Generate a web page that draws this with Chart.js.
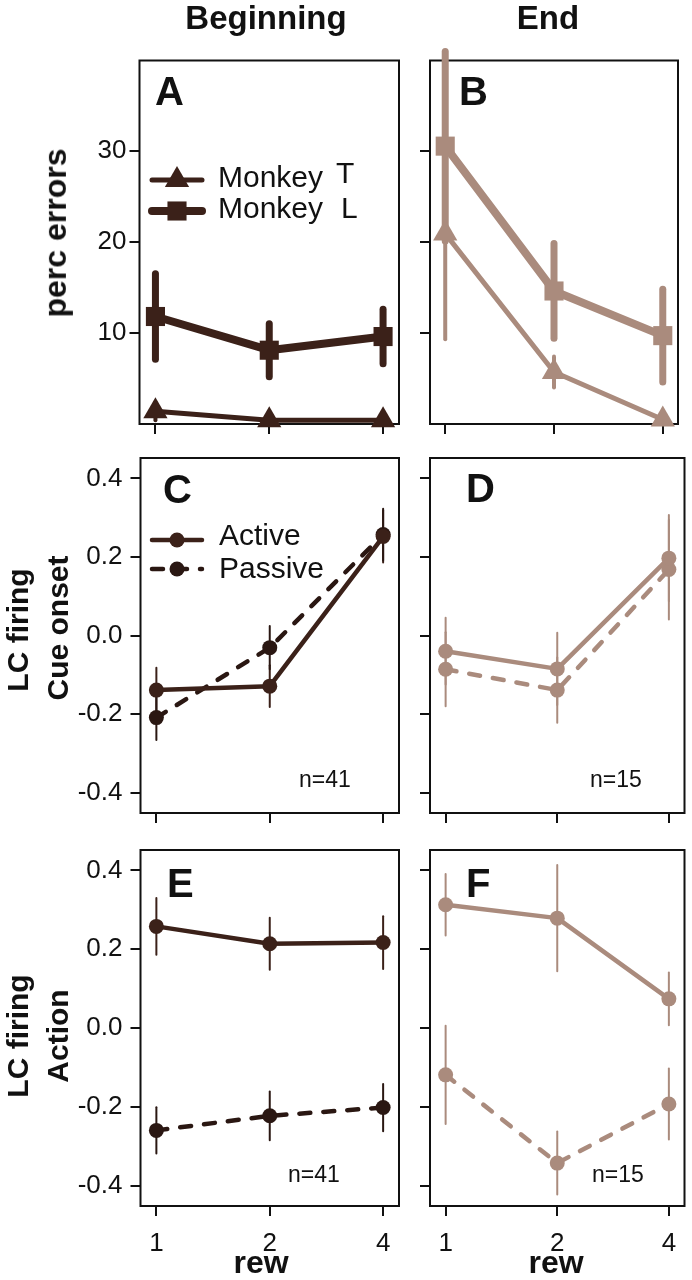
<!DOCTYPE html>
<html>
<head>
<meta charset="utf-8">
<script src="https://cdn.jsdelivr.net/npm/chart.js@4.4.1/dist/chart.umd.min.js"></script>
<style>
  body { margin: 0; background: #fff; }
  #wrap { position: relative; width: 692px; height: 1280px; overflow: hidden; font-family: "Liberation Sans", Arial, sans-serif; color: #111; }
  #wrap canvas { position: absolute; left: 0; top: 0; }
  .t { position: absolute; white-space: nowrap; line-height: 1; }
</style>
</head>
<body>
<div id="wrap">
  <canvas id="pA" width="692" height="1280"></canvas>
  <canvas id="pB" width="692" height="1280"></canvas>
  <canvas id="pC" width="692" height="1280"></canvas>
  <canvas id="pD" width="692" height="1280"></canvas>
  <canvas id="pE" width="692" height="1280"></canvas>
  <canvas id="pF" width="692" height="1280"></canvas>
</div>
<script>
// x categories and tick values
const rewLabels = ['1', '2', '4'];
const errorTicks = [10, 20, 30];
const firingTicks = [-0.4, -0.2, 0, 0.2, 0.4];

// perc errors (A = beginning, B = end)
const begMonkeyT = [1.4, 0.4, 0.4];
const begMonkeyTErr = [1.0, 0, 0];
const begMonkeyL = [11.8, 8.1, 9.6];
const begMonkeyLErr = [4.7, 2.9, 3.0];
const endMonkeyT = [20.9, 5.7, 0.5];
const endMonkeyTErr = [11.6, 1.7, 0];
const endMonkeyL = [30.5, 14.6, 9.7];
const endMonkeyLErr = [10.4, 5.2, 5.1];

// LC firing, cue onset (C, D)
const cueBegActive = [-0.139, -0.129, 0.252];
const cueBegActiveErr = [0.057, 0.053, 0.066];
const cueBegPassive = [-0.209, -0.031, 0.257];
const cueBegPassiveErr = [0.057, 0.055, 0.066];
const cueEndActive = [-0.040, -0.085, 0.197];
const cueEndActiveErr = [0.085, 0.092, 0.110];
const cueEndPassive = [-0.086, -0.139, 0.168];
const cueEndPassiveErr = [0.094, 0.083, 0.127];

// LC firing, action (E, F)
const actBegActive = [0.258, 0.214, 0.217];
const actBegActiveErr = [0.072, 0.066, 0.067];
const actBegPassive = [-0.260, -0.223, -0.202];
const actBegPassiveErr = [0.059, 0.062, 0.060];
const actEndActive = [0.313, 0.279, 0.074];
const actEndActiveErr = [0.078, 0.135, 0.067];
const actEndPassive = [-0.119, -0.343, -0.193];
const actEndPassiveErr = [0.125, 0.080, 0.090];

const FONT = '"Liberation Sans", Arial, sans-serif';
const BEG = '#3b2119';
const BEG_DARK = '#2a1712';
const END = '#aa8b7d';
const Y_W = 100, X_H = 60;

// vertical error bars, drawn from each dataset's errors array
const errorBars = {
    id: 'errorBars',
    beforeDatasetsDraw(chart) {
        const ctx = chart.ctx, xs = chart.scales.x, ys = chart.scales.y;
        chart.data.datasets.forEach(ds => {
            if (!ds.errors) return;
            ctx.save();
            ctx.strokeStyle = ds.borderColor;
            ctx.lineWidth = ds.errorWidth;
            ctx.lineCap = 'round';
            ds.data.forEach((p, i) => {
                const e = ds.errors[i];
                if (!e) return;
                const px = xs.getPixelForValue(p.x);
                ctx.beginPath();
                ctx.moveTo(px, ys.getPixelForValue(p.y - e));
                ctx.lineTo(px, ys.getPixelForValue(p.y + e));
                ctx.stroke();
            });
            ctx.restore();
        });
    }
};

// box around the plot region
const frame = {
    id: 'frame',
    beforeDatasetsDraw(chart) {
        const a = chart.chartArea, ctx = chart.ctx;
        ctx.save();
        ctx.strokeStyle = '#111';
        ctx.lineWidth = 2;
        ctx.strokeRect(a.left, a.top, a.right - a.left, a.bottom - a.top);
        ctx.restore();
    }
};

// legend drawn inside the plot
const insetLegend = {
    id: 'insetLegend',
    afterDraw(chart, args, opts) {
        if (!opts.rows) return;
        const ctx = chart.ctx;
        chart.data.datasets.forEach((ds, i) => {
            const row = opts.rows[i];
            ctx.save();
            ctx.strokeStyle = ds.borderColor;
            ctx.lineWidth = ds.borderWidth;
            ctx.lineCap = 'round';
            ctx.setLineDash(ds.borderDash || []);
            ctx.beginPath();
            ctx.moveTo(opts.x, row.y);
            ctx.lineTo(opts.x + opts.len, row.y);
            ctx.stroke();
            ctx.setLineDash([]);
            ctx.fillStyle = ds.pointBackgroundColor;
            Chart.helpers.drawPoint(ctx, { pointStyle: ds.pointStyle, radius: ds.pointRadius, borderWidth: 0, rotation: 0 },
                opts.x + opts.len / 2, row.y);
            ctx.fillStyle = '#111';
            ctx.font = opts.size + 'px ' + FONT;
            ctx.textBaseline = 'alphabetic';
            ctx.fillText(row.text, opts.textX, row.base);
            if (row.suffix) ctx.fillText(row.suffix, row.sx, row.sbase);
            ctx.restore();
        });
    }
};

function series(values, errors, color, style) {
    return Object.assign({
        data: values.map((v, i) => ({ x: i, y: v })),
        errors: errors,
        borderColor: color,
        backgroundColor: color,
        pointBackgroundColor: color,
        pointBorderWidth: 0,
        borderCapStyle: 'round',
        borderJoinStyle: 'round',
        clip: false
    }, style);
}

function makePanel(id, area, yMin, yMax, yTicks, fmt, showY, showX, yPad, datasets, legend) {
    const grid = { drawOnChartArea: false, drawTicks: true, tickLength: 10, color: '#111', lineWidth: 2 };
    return new Chart(document.getElementById(id), {
        type: 'line',
        data: { datasets: datasets },
        options: {
            responsive: false,
            animation: false,
            events: [],
            layout: { padding: { left: area[0] - Y_W, top: area[2], right: 692 - area[1], bottom: 1280 - area[3] - X_H } },
            plugins: {
                legend: { display: false },
                tooltip: { enabled: false },
                insetLegend: legend || {}
            },
            scales: {
                x: {
                    type: 'linear', min: -0.14, max: 2.14,
                    afterFit(s) { s.height = X_H; },
                    afterBuildTicks(s) { s.ticks = rewLabels.map((_, i) => ({ value: i })); },
                    grid: grid, border: { display: false },
                    ticks: { display: showX, callback: v => rewLabels[v], color: '#111', padding: 12,
                             font: { size: 26, family: FONT }, maxRotation: 0, autoSkip: false }
                },
                y: {
                    min: yMin, max: yMax,
                    afterFit(s) { s.width = Y_W; },
                    afterBuildTicks(s) { s.ticks = yTicks.map(v => ({ value: v })); },
                    grid: grid, border: { display: false },
                    ticks: { display: showY, callback: fmt, color: '#111', padding: yPad,
                             font: { size: 26, family: FONT }, autoSkip: false }
                }
            }
        },
        plugins: [frame, errorBars, insetLegend]
    });
}

const fmtInt = v => String(v);
const fmtDec = v => v.toFixed(1);

const triT = { pointStyle: 'triangle', pointRadius: 14, borderWidth: 5, errorWidth: 4 };
const sqL = { pointStyle: 'rect', pointRadius: 13.5, borderWidth: 8, errorWidth: 7 };
const solid = { pointStyle: 'circle', pointRadius: 7.5, borderWidth: 4.5, errorWidth: 2 };
const dashed = { pointStyle: 'circle', pointRadius: 7.5, borderWidth: 4.5, errorWidth: 2, borderDash: [11, 13] };

makePanel('pA', [139.5, 399, 60.5, 424], 0, 39.9, errorTicks, fmtInt, true, false, 3, [
    series(begMonkeyT, begMonkeyTErr, BEG, Object.assign({ label: 'Monkey T' }, triT)),
    series(begMonkeyL, begMonkeyLErr, BEG, Object.assign({ label: 'Monkey L' }, sqL))
], {
    x: 152, len: 50, textX: 218, size: 30,
    rows: [
        { y: 180, text: 'Monkey', base: 187, suffix: 'T', sx: 336, sbase: 183 },
        { y: 211, text: 'Monkey', base: 218, suffix: 'L', sx: 341, sbase: 218 }
    ]
});

makePanel('pB', [430, 689, 60.5, 424], 0, 39.9, errorTicks, fmtInt, false, false, 3, [
    series(endMonkeyT, endMonkeyTErr, END, Object.assign({ label: 'Monkey T' }, triT)),
    series(endMonkeyL, endMonkeyLErr, END, Object.assign({ label: 'Monkey L' }, sqL))
]);

makePanel('pC', [140.5, 399, 458, 813], -0.452, 0.452, firingTicks, fmtDec, true, false, 8, [
    series(cueBegActive, cueBegActiveErr, BEG, Object.assign({ label: 'Active' }, solid)),
    series(cueBegPassive, cueBegPassiveErr, BEG_DARK, Object.assign({ label: 'Passive' }, dashed))
], {
    x: 152, len: 50, textX: 219, size: 30,
    rows: [
        { y: 540, text: 'Active', base: 545 },
        { y: 569, text: 'Passive', base: 578 }
    ]
});

makePanel('pD', [430, 689, 458, 813], -0.452, 0.452, firingTicks, fmtDec, false, false, 8, [
    series(cueEndActive, cueEndActiveErr, END, Object.assign({ label: 'Active' }, solid)),
    series(cueEndPassive, cueEndPassiveErr, END, Object.assign({ label: 'Passive' }, dashed))
]);

makePanel('pE', [140.5, 399, 850, 1206], -0.452, 0.452, firingTicks, fmtDec, true, true, 8, [
    series(actBegActive, actBegActiveErr, BEG, Object.assign({ label: 'Active' }, solid)),
    series(actBegPassive, actBegPassiveErr, BEG_DARK, Object.assign({ label: 'Passive' }, dashed))
]);

makePanel('pF', [430, 689, 850, 1206], -0.452, 0.452, firingTicks, fmtDec, false, true, 8, [
    series(actEndActive, actEndActiveErr, END, Object.assign({ label: 'Active' }, solid)),
    series(actEndPassive, actEndPassiveErr, END, Object.assign({ label: 'Passive' }, dashed))
]);

// text outside the canvases
const wrap = document.getElementById('wrap');
function text(str, x, base, size, bold, center) {
    const d = document.createElement('div');
    d.className = 't';
    d.textContent = str;
    d.style.fontSize = size + 'px';
    d.style.fontWeight = bold ? 'bold' : 'normal';
    d.style.left = x + 'px';
    d.style.top = (base - 0.8466 * size) + 'px';
    if (center) d.style.transform = 'translateX(-50%)';
    wrap.appendChild(d);
}
function vtext(str, baseX, cy, size) {
    const d = document.createElement('div');
    d.className = 't';
    d.textContent = str;
    d.style.fontSize = size + 'px';
    d.style.fontWeight = 'bold';
    d.style.left = '0px';
    d.style.top = '0px';
    d.style.transformOrigin = '0 0';
    const cx = baseX - 0.3466 * size;
    d.style.transform = 'translate(' + cx + 'px,' + cy + 'px) rotate(-90deg) translate(-50%,-50%)';
    wrap.appendChild(d);
}

text('Beginning', 266, 29, 33, true, true);
text('End', 548, 29, 33, true, true);

vtext('perc errors', 66, 233, 32);
vtext('LC firing', 28, 630, 30);
vtext('Cue onset', 68, 628, 30);
vtext('LC firing', 28, 1036, 30);
vtext('Action', 68, 1036, 30);

text('A', 155, 105, 40, true);
text('B', 459, 105, 40, true);
text('C', 163, 503, 40, true);
text('D', 466, 502, 40, true);
text('E', 167, 897, 40, true);
text('F', 466, 897, 40, true);

text('n=41', 299, 787, 23, false);
text('n=15', 590, 787, 23, false);
text('n=41', 288, 1182, 23, false);
text('n=15', 592, 1182, 23, false);

text('rew', 261, 1273, 32, true, true);
text('rew', 556, 1273, 32, true, true);
</script>
</body>
</html>
